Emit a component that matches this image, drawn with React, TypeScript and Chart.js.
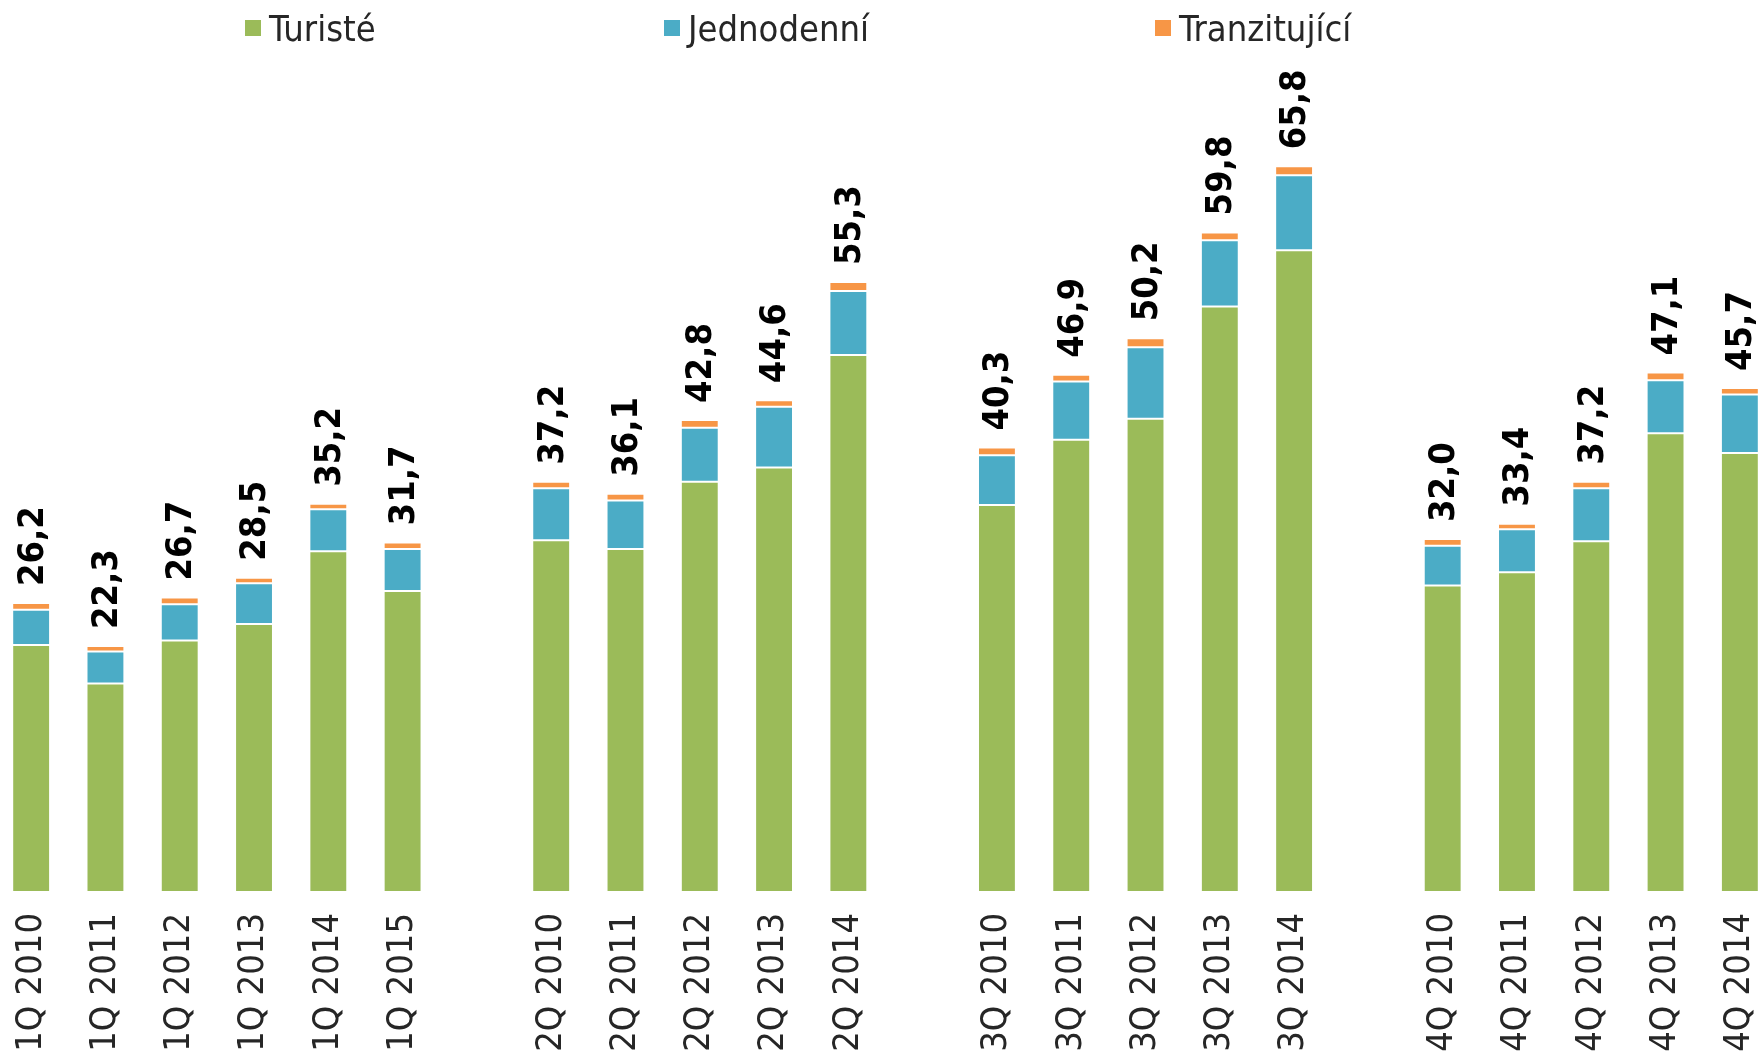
import React, { useEffect, useRef } from "react";
import { Chart, registerables } from "chart.js";

Chart.register(...registerables);

const categories = [
  "1Q 2010", "1Q 2011", "1Q 2012", "1Q 2013", "1Q 2014", "1Q 2015", "",
  "2Q 2010", "2Q 2011", "2Q 2012", "2Q 2013", "2Q 2014", "",
  "3Q 2010", "3Q 2011", "3Q 2012", "3Q 2013", "3Q 2014", "",
  "4Q 2010", "4Q 2011", "4Q 2012", "4Q 2013", "4Q 2014",
];

const turiste = [
  22.4, 18.9, 22.8, 24.3, 30.9, 27.3, null,
  31.9, 31.1, 37.2, 38.5, 48.7, null,
  35.1, 41.0, 42.9, 53.1, 58.2, null,
  27.8, 29.0, 31.8, 41.6, 39.8,
];

const jednodenni = [
  3.2, 2.9, 3.3, 3.7, 3.8, 3.8, null,
  4.7, 4.4, 4.9, 5.5, 5.8, null,
  4.5, 5.3, 6.5, 6.0, 6.8, null,
  3.6, 3.9, 4.8, 4.8, 5.3,
];

const tranzitujici = [
  0.6, 0.5, 0.6, 0.5, 0.5, 0.6, null,
  0.6, 0.6, 0.7, 0.6, 0.8, null,
  0.7, 0.6, 0.8, 0.7, 0.8, null,
  0.6, 0.5, 0.6, 0.7, 0.6,
];

const totals = [
  26.2, 22.3, 26.7, 28.5, 35.2, 31.7, null,
  37.2, 36.1, 42.8, 44.6, 55.3, null,
  40.3, 46.9, 50.2, 59.8, 65.8, null,
  32.0, 33.4, 37.2, 47.1, 45.7,
];

const seriesNames = ["Turisté", "Jednodenní", "Tranzitující"];
const seriesColors = ["#9BBB59", "#4BACC6", "#F79646"];

const FONT = "'DejaVu Sans Condensed', 'DejaVu Sans', Verdana, sans-serif";

const CANVAS_W = 1783;
const CANVAS_H = 1062;

const totalLabelsPlugin = {
  id: "totalLabels",
  afterDatasetsDraw(chart: any) {
    const ctx = chart.ctx;
    const last = chart.data.datasets.length - 1;
    const meta = chart.getDatasetMeta(last);
    ctx.save();
    ctx.fillStyle = "#000000";
    ctx.font = `bold 36px ${FONT}`;
    ctx.textAlign = "left";
    ctx.textBaseline = "middle";
    totals.forEach((t, i) => {
      if (t === null) return;
      const el = meta.data[i];
      if (!el) return;
      ctx.save();
      ctx.translate(el.x, el.y - 17);
      ctx.rotate(-Math.PI / 2);
      ctx.fillText(t.toFixed(1).replace(".", ","), 0, 2);
      ctx.restore();
    });
    ctx.restore();
  },
};

const legendPlugin = {
  id: "customLegend",
  afterDraw(chart: any) {
    const ctx = chart.ctx;
    const starts = [251, 670, 1161];
    ctx.save();
    ctx.font = `36px ${FONT}`;
    ctx.textBaseline = "alphabetic";
    ctx.textAlign = "left";
    chart.data.datasets.forEach((ds: any, i: number) => {
      const x = starts[i];
      ctx.fillStyle = ds.backgroundColor;
      ctx.fillRect(x, 20, 16, 16);
      ctx.fillStyle = "#262626";
      ctx.fillText(ds.label, x + 24, 41);
    });
    ctx.restore();
  },
};

export default function App() {
  const canvasRef = useRef<HTMLCanvasElement | null>(null);

  useEffect(() => {
    const canvas = canvasRef.current;
    if (!canvas) return;
    const data = [turiste, jednodenni, tranzitujici];
    const chart = new Chart(canvas, {
      type: "bar",
      data: {
        labels: categories,
        datasets: data.map((d, i) => ({
          label: seriesNames[i],
          data: d,
          backgroundColor: seriesColors[i],
          borderColor: "rgba(255,255,255,0.75)",
          borderWidth: 1,
          borderSkipped: false,
          barPercentage: 0.51,
          categoryPercentage: 1,
        })),
      },
      options: {
        responsive: false,
        animation: false,
        devicePixelRatio: 1,
        layout: { padding: { top: 120, left: 0, right: 0, bottom: 0 } },
        plugins: {
          legend: { display: false },
          tooltip: { enabled: false },
          title: { display: false },
        },
        scales: {
          x: {
            stacked: true,
            grid: { display: false, drawTicks: false },
            border: { display: false },
            ticks: {
              autoSkip: false,
              minRotation: 90,
              maxRotation: 90,
              padding: 21,
              color: "#262626",
              font: { family: FONT, size: 36 },
            },
            afterFit(scale: any) {
              scale.paddingLeft = 0;
              scale.paddingRight = 0;
              scale.height = 170;
            },
          },
          y: {
            stacked: true,
            display: false,
            min: 0,
            max: 70,
          },
        },
      },
      plugins: [totalLabelsPlugin, legendPlugin],
    });
    return () => chart.destroy();
  }, []);

  return (
    <div
      style={{
        position: "absolute",
        left: 0,
        top: 0,
        width: 1760,
        height: 1053,
        overflow: "hidden",
        background: "#ffffff",
      }}
    >
      <canvas
        ref={canvasRef}
        width={CANVAS_W}
        height={CANVAS_H}
        style={{ position: "absolute", left: -6, top: 0, width: CANVAS_W, height: CANVAS_H }}
      />
    </div>
  );
}
